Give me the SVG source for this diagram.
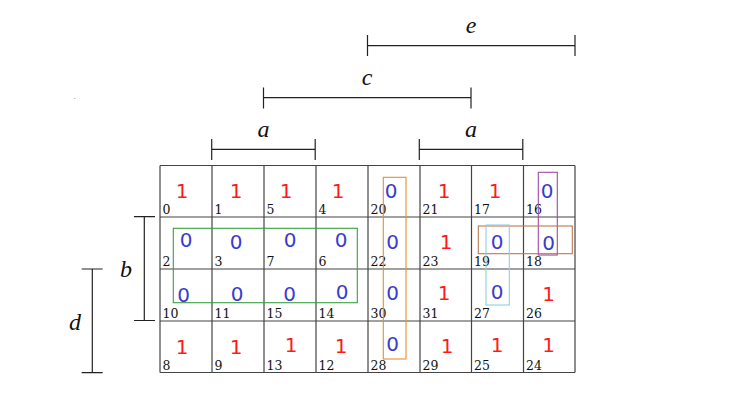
<svg xmlns="http://www.w3.org/2000/svg" width="733" height="420" viewBox="0 0 733 420">
<style>
.bg{fill:#ffffff}
.cell{fill:none;stroke:#444;stroke-width:1.2}
.idx{font-family:"DejaVu Serif","Liberation Serif",serif;font-size:12.5px;fill:#111}
.one{font-family:"DejaVu Sans","Noto Sans",sans-serif;font-size:20px;fill:#ff1a1a;text-anchor:middle}
.zero{font-family:"DejaVu Sans","Noto Sans",sans-serif;font-size:20px;fill:#3b3bd0;text-anchor:middle}
.br{stroke:#222;stroke-width:1.2;fill:none}
.lbl{font-family:"Liberation Serif","DejaVu Serif",serif;font-style:italic;font-size:24px;fill:#111;text-anchor:middle}
.loop{fill:none;stroke-width:1.1}
</style>
<rect class="bg" x="0" y="0" width="733" height="420"/>
<rect x="74" y="98" width="1.5" height="1" fill="#bbb"/>

<g id="brackets">
  <g id="bracket-e"><path class="br" d="M367.5,45.7H575M367.5,35V56M575,35V56"/><text class="lbl" x="471" y="33">e</text></g>
  <g id="bracket-c"><path class="br" d="M263.5,97.7H471M263.5,87.5V108.5M471,87.5V108.5"/><text class="lbl" x="367" y="85">c</text></g>
  <g id="bracket-a1"><path class="br" d="M211.7,149.3H315.2M211.7,139V160M315.2,139V160"/><text class="lbl" x="263.5" y="137">a</text></g>
  <g id="bracket-a2"><path class="br" d="M419.3,149.3H522.8M419.3,139V160M522.8,139V160"/><text class="lbl" x="471" y="137">a</text></g>
  <g id="bracket-b"><path class="br" d="M144.3,216.7V320.5M134,216.7H155M134,320.5H155"/><text class="lbl" x="126" y="277">b</text></g>
  <g id="bracket-d"><path class="br" d="M92.3,269V372.7M81.7,269H102.7M81.7,372.7H102.7"/><text class="lbl" x="75" y="330">d</text></g>
</g>

<g id="grid">
  <path class="cell" d="M160,165.5H575M160,217H575M160,269H575M160,321H575M160,372.5H575M160,165.5V372.5M212,165.5V372.5M264,165.5V372.5M316,165.5V372.5M368,165.5V372.5M420,165.5V372.5M471.5,165.5V372.5M523.5,165.5V372.5M575,165.5V372.5"/>
</g>

<g id="cells">
  <g id="c0"><text class="idx" x="162.5" y="214">0</text><text class="one" x="182" y="198">1</text></g>
  <g id="c1"><text class="idx" x="214.5" y="214">1</text><text class="one" x="236" y="198">1</text></g>
  <g id="c5"><text class="idx" x="266.5" y="214">5</text><text class="one" x="286" y="198">1</text></g>
  <g id="c4"><text class="idx" x="318.5" y="214">4</text><text class="one" x="338" y="198">1</text></g>
  <g id="c20"><text class="idx" x="370.5" y="214">20</text><text class="zero" x="391" y="198">0</text></g>
  <g id="c21"><text class="idx" x="422.5" y="214">21</text><text class="one" x="444" y="198">1</text></g>
  <g id="c17"><text class="idx" x="474" y="214">17</text><text class="one" x="495" y="198">1</text></g>
  <g id="c16"><text class="idx" x="526" y="214">16</text><text class="zero" x="547" y="198">0</text></g>

  <g id="c2"><text class="idx" x="162.5" y="266">2</text><text class="zero" x="186" y="247">0</text></g>
  <g id="c3"><text class="idx" x="214.5" y="266">3</text><text class="zero" x="236" y="249">0</text></g>
  <g id="c7"><text class="idx" x="266.5" y="266">7</text><text class="zero" x="290" y="247">0</text></g>
  <g id="c6"><text class="idx" x="318.5" y="266">6</text><text class="zero" x="341" y="247">0</text></g>
  <g id="c22"><text class="idx" x="370.5" y="266">22</text><text class="zero" x="392.5" y="249">0</text></g>
  <g id="c23"><text class="idx" x="422.5" y="266">23</text><text class="one" x="446" y="249">1</text></g>
  <g id="c19"><text class="idx" x="474" y="266">19</text><text class="zero" x="497" y="249">0</text></g>
  <g id="c18"><text class="idx" x="526" y="266">18</text><text class="zero" x="548.5" y="250">0</text></g>

  <g id="c10"><text class="idx" x="162.5" y="318">10</text><text class="zero" x="183.5" y="301.5">0</text></g>
  <g id="c11"><text class="idx" x="214.5" y="318">11</text><text class="zero" x="237" y="300.5">0</text></g>
  <g id="c15"><text class="idx" x="266.5" y="318">15</text><text class="zero" x="289.5" y="300.5">0</text></g>
  <g id="c14"><text class="idx" x="318.5" y="318">14</text><text class="zero" x="342" y="298.5">0</text></g>
  <g id="c30"><text class="idx" x="370.5" y="318">30</text><text class="zero" x="392.5" y="299.5">0</text></g>
  <g id="c31"><text class="idx" x="422.5" y="318">31</text><text class="one" x="444" y="300">1</text></g>
  <g id="c27"><text class="idx" x="474" y="318">27</text><text class="zero" x="497" y="298.5">0</text></g>
  <g id="c26"><text class="idx" x="526" y="318">26</text><text class="one" x="548.5" y="301">1</text></g>

  <g id="c8"><text class="idx" x="162.5" y="369.5">8</text><text class="one" x="182" y="354">1</text></g>
  <g id="c9"><text class="idx" x="214.5" y="369.5">9</text><text class="one" x="236" y="354">1</text></g>
  <g id="c13"><text class="idx" x="266.5" y="369.5">13</text><text class="one" x="291" y="352">1</text></g>
  <g id="c12"><text class="idx" x="318.5" y="369.5">12</text><text class="one" x="341" y="352.5">1</text></g>
  <g id="c28"><text class="idx" x="370.5" y="369.5">28</text><text class="zero" x="392.5" y="351">0</text></g>
  <g id="c29"><text class="idx" x="422.5" y="369.5">29</text><text class="one" x="447" y="352.5">1</text></g>
  <g id="c25"><text class="idx" x="474" y="369.5">25</text><text class="one" x="497" y="352">1</text></g>
  <g id="c24"><text class="idx" x="526" y="369.5">24</text><text class="one" x="548.5" y="352">1</text></g>
</g>

<g id="loops">
  <rect id="loop-green" class="loop" stroke="#3aa040" x="173.3" y="228.3" width="184" height="74.4"/>
  <rect id="loop-orange" class="loop" stroke="#f08a30" x="383.3" y="177.3" width="22.7" height="181.7"/>
  <rect id="loop-purple" class="loop" stroke="#a04aa8" x="538.3" y="172.3" width="19" height="82.7"/>
  <rect id="loop-brown" class="loop" stroke="#b87a50" x="478.3" y="226" width="94" height="27.7"/>
  <rect id="loop-lightblue" class="loop" stroke="#90d0e0" x="486" y="225" width="23.3" height="80"/>
</g>
</svg>
